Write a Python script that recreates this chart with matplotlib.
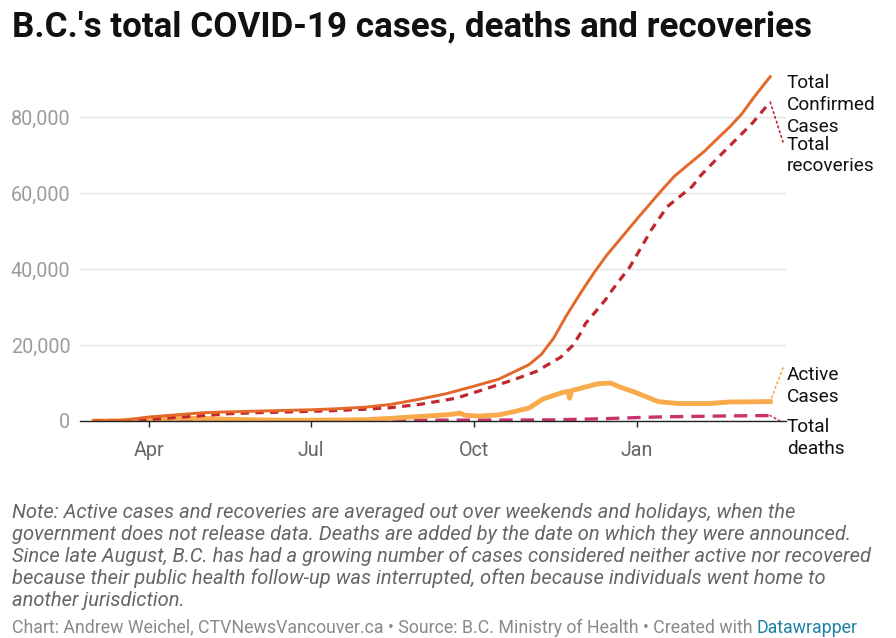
import matplotlib
matplotlib.use("Agg")
import matplotlib.pyplot as plt
import matplotlib.dates as mdates
import pandas as pd
from matplotlib.ticker import FuncFormatter

# ---------------- data ----------------
conf_dates = ["2020-03-01", "2020-03-08", "2020-03-15", "2020-03-22", "2020-04-01",
              "2020-04-15", "2020-05-01", "2020-05-15", "2020-06-01", "2020-06-15",
              "2020-07-01", "2020-07-15", "2020-08-01", "2020-08-15", "2020-09-01",
              "2020-09-15", "2020-10-01", "2020-10-15", "2020-11-01", "2020-11-08",
              "2020-11-15", "2020-11-22", "2020-12-01", "2020-12-08", "2020-12-15",
              "2020-12-22", "2021-01-01", "2021-01-08", "2021-01-15", "2021-01-22",
              "2021-02-01", "2021-02-08", "2021-02-15", "2021-02-22", "2021-03-01",
              "2021-03-08", "2021-03-17"]
conf_values = [8, 27, 73, 424, 1066,
               1560, 2170, 2400, 2600, 2770,
               2950, 3200, 3640, 4360, 5790,
               7140, 9140, 11000, 14800, 17500,
               21800, 27600, 34300, 39200, 43700,
               47600, 53200, 57000, 60800, 64400,
               68300, 71000, 74200, 77300, 80800,
               85300, 90600]

rec_dates = ["2020-03-01", "2020-03-15", "2020-04-01", "2020-04-15", "2020-05-01",
             "2020-05-15", "2020-06-01", "2020-06-15", "2020-07-01", "2020-07-15",
             "2020-08-01", "2020-08-15", "2020-09-01", "2020-09-21", "2020-10-04",
             "2020-10-23", "2020-11-05", "2020-11-19", "2020-11-26", "2020-11-30",
             "2020-12-03", "2020-12-09", "2020-12-14", "2020-12-18", "2020-12-28",
             "2021-01-09", "2021-01-18", "2021-02-01", "2021-02-06", "2021-02-16",
             "2021-03-07", "2021-03-17"]
rec_values = [0, 5, 400, 900, 1400,
              1900, 2200, 2350, 2550, 2750,
              3100, 3500, 4400, 6000, 7900,
              10800, 13000, 16800, 20000, 23000,
              25700, 29000, 31800, 34500, 40600,
              50300, 56400, 61700, 64700, 69500,
              78400, 84000]

act_dates = ["2020-03-01", "2020-03-15", "2020-04-01", "2020-04-15", "2020-05-01",
             "2020-05-15", "2020-06-01", "2020-06-15", "2020-07-01", "2020-07-15",
             "2020-08-01", "2020-08-15", "2020-09-01", "2020-09-15", "2020-09-21",
             "2020-09-23", "2020-09-26", "2020-10-04", "2020-10-15", "2020-10-23",
             "2020-11-01", "2020-11-09", "2020-11-20", "2020-11-23", "2020-11-24",
             "2020-11-25", "2020-12-01", "2020-12-10", "2020-12-17", "2020-12-22",
             "2020-12-30", "2021-01-13", "2021-01-24", "2021-02-11", "2021-02-22",
             "2021-03-17"]
act_values = [0, 60, 600, 700, 700,
              450, 300, 200, 200, 250,
              350, 700, 1200, 1600, 1900,
              2100, 1500, 1300, 1600, 2400,
              3400, 5800, 7500, 7800, 6000,
              8000, 8700, 9800, 10000, 9000,
              7700, 5100, 4600, 4600, 5000,
              5100]

death_dates = ["2020-03-01", "2020-04-01", "2020-05-01", "2020-06-01", "2020-07-01",
               "2020-08-01", "2020-09-01", "2020-10-01", "2020-11-01", "2020-11-15",
               "2020-12-01", "2020-12-15", "2021-01-01", "2021-01-15", "2021-02-01",
               "2021-02-15", "2021-03-01", "2021-03-17"]
death_values = [0, 30, 110, 165, 175,
                195, 210, 240, 270, 300,
                480, 630, 900, 1090, 1200,
                1300, 1370, 1430]

y_ticks = [0, 20000, 40000, 60000, 80000]
x_ticks = ["2020-04-01", "2020-07-01", "2020-10-01", "2021-01-01"]
x_tick_labels = ["Apr", "Jul", "Oct", "Jan"]

title = "B.C.'s total COVID-19 cases, deaths and recoveries"
note_lines = ["Note: Active cases and recoveries are averaged out over weekends and holidays, when the",
              "government does not release data. Deaths are added by the date on which they were announced.",
              "Since late August, B.C. has had a growing number of cases considered neither active nor recovered",
              "because their public health follow-up was interrupted, often because individuals went home to",
              "another jurisdiction."]
credit = "Chart: Andrew Weichel, CTVNewsVancouver.ca \u2022 Source: B.C. Ministry of Health \u2022 Created with "
credit_link = "Datawrapper"

series_labels = [["Total", "Confirmed", "Cases"], ["Total", "recoveries"],
                 ["Active", "Cases"], ["Total", "deaths"]]

# ---------------- styling ----------------
W, H = 896, 638
plt.rcParams['font.family'] = ['Roboto', 'DejaVu Sans']

C_CONF = "#e3682a"
C_REC = "#c0272f"
C_ACT = "#f8aa4c"
C_DEATH = "#c9336d"

fig = plt.figure(figsize=(W / 100, H / 100), dpi=100)
fig.patch.set_facecolor("white")

def px(x, y):
    """image pixel (from top-left) -> figure fraction"""
    return x / W, 1 - y / H

ax_left, ax_right, ax_top, ax_bottom = 80, 786, 71, 421
ax = fig.add_axes([ax_left / W, (H - ax_bottom) / H,
                   (ax_right - ax_left) / W, (ax_bottom - ax_top) / H])

to_dt = lambda l: pd.to_datetime(l)

ax.plot(to_dt(death_dates), death_values, color=C_DEATH, lw=2.4,
        dashes=(4.0, 2.4), zorder=3)
ax.plot(to_dt(act_dates), act_values, color=C_ACT, lw=3.5,
        solid_joinstyle="round", zorder=4)
ax.plot(to_dt(rec_dates), rec_values, color=C_REC, lw=2.3,
        dashes=(2.6, 2.0), zorder=5)
ax.plot(to_dt(conf_dates), conf_values, color=C_CONF, lw=2.1, zorder=6)

apr1 = mdates.date2num(pd.Timestamp("2020-04-01"))
ax.set_xlim(apr1 - 38.9, apr1 + 358.9)
ax.set_ylim(0, 92100)

for s in ax.spines.values():
    s.set_visible(False)

ax.set_yticks(y_ticks)
ax.yaxis.set_major_formatter(FuncFormatter(lambda v, p: f"{int(v):,}"))
ax.tick_params(axis="y", length=0, pad=7, labelsize=14.2, labelcolor="#9b9b9b")
ax.grid(axis="y", color="#e4e4e4", lw=1.0, zorder=0)
ax.axhline(0, color="#222222", lw=1.0, zorder=7, clip_on=False)

ax.set_xticks(to_dt(x_ticks))
ax.set_xticklabels(x_tick_labels)
ax.tick_params(axis="x", length=4.5, width=1.0, color="#222222", pad=10,
               labelsize=14.2, labelcolor="#666666")

# ---------------- end labels ----------------
label_centers = [[83, 105, 127], [145, 166], [375, 397], [427, 449]]
for lines, ys in zip(series_labels, label_centers):
    for txt, yy in zip(lines, ys):
        fig.text(*px(787, yy), txt, fontsize=13.7, color="#111111",
                 ha="left", va="center")

# dotted connectors from series ends to labels
def connector(date, value, tx, ty, color):
    ax.annotate("", xy=(pd.Timestamp(date), value), xycoords="data",
                xytext=(tx, H - ty), textcoords="figure pixels",
                arrowprops=dict(arrowstyle="-", color=color, lw=1.2,
                                linestyle=(0, (1, 2)), shrinkA=0, shrinkB=0),
                annotation_clip=False)

connector(rec_dates[-1], rec_values[-1], 783, 142, C_REC)
connector(act_dates[-1], act_values[-1], 783, 368, C_ACT)
connector(death_dates[-1], death_values[-1], 780, 421, C_DEATH)

# ---------------- titles & notes ----------------
fig.text(*px(12, 27), title, fontsize=25.2, fontweight="bold", color="#111111",
         ha="left", va="center")

for i, line in enumerate(note_lines):
    fig.text(*px(12, 512 + 22.2 * i), line, fontsize=14.5, style="italic",
             color="#666666", ha="left", va="center")

t1 = fig.text(*px(12, 628), credit, fontsize=12.8, color="#8a8a8a",
              ha="left", va="center")
renderer = fig.canvas.get_renderer()
bb = t1.get_window_extent(renderer=renderer)
fig.text(bb.x1 / W, 1 - 628 / H, credit_link, fontsize=12.8, color="#1d81a2",
         ha="left", va="center")

fig.savefig("out.png", dpi=100)
